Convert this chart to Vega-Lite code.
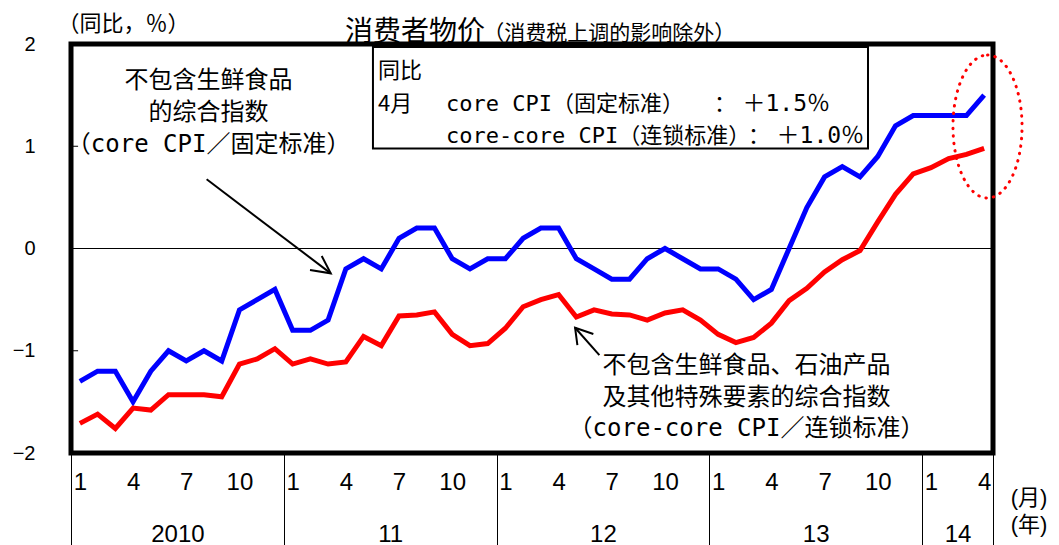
{
  "$schema": "https://vega.github.io/schema/vega-lite/v6.json",
  "width": 922,
  "height": 409,
  "autosize": {"type": "none"},
  "padding": {"left": 71, "top": 44, "right": 66, "bottom": 92},
  "background": "white",
  "config": {
    "view": {"stroke": "black", "strokeWidth": 5},
    "axis": {"grid": false, "domain": false, "labelColor": "black", "titleColor": "black", "labelFont": "Liberation Sans"}
  },
  "resolve": {"axis": {"x": "independent"}},
  "datasets": {
    "cpi": [
      {"i":0,"s":"core","v":-1.3},{"i":1,"s":"core","v":-1.2},{"i":2,"s":"core","v":-1.2},{"i":3,"s":"core","v":-1.5},
      {"i":4,"s":"core","v":-1.2},{"i":5,"s":"core","v":-1.0},{"i":6,"s":"core","v":-1.1},{"i":7,"s":"core","v":-1.0},
      {"i":8,"s":"core","v":-1.1},{"i":9,"s":"core","v":-0.6},{"i":10,"s":"core","v":-0.5},{"i":11,"s":"core","v":-0.4},
      {"i":12,"s":"core","v":-0.8},{"i":13,"s":"core","v":-0.8},{"i":14,"s":"core","v":-0.7},{"i":15,"s":"core","v":-0.2},
      {"i":16,"s":"core","v":-0.1},{"i":17,"s":"core","v":-0.2},{"i":18,"s":"core","v":0.1},{"i":19,"s":"core","v":0.2},
      {"i":20,"s":"core","v":0.2},{"i":21,"s":"core","v":-0.1},{"i":22,"s":"core","v":-0.2},{"i":23,"s":"core","v":-0.1},
      {"i":24,"s":"core","v":-0.1},{"i":25,"s":"core","v":0.1},{"i":26,"s":"core","v":0.2},{"i":27,"s":"core","v":0.2},
      {"i":28,"s":"core","v":-0.1},{"i":29,"s":"core","v":-0.2},{"i":30,"s":"core","v":-0.3},{"i":31,"s":"core","v":-0.3},
      {"i":32,"s":"core","v":-0.1},{"i":33,"s":"core","v":0.0},{"i":34,"s":"core","v":-0.1},{"i":35,"s":"core","v":-0.2},
      {"i":36,"s":"core","v":-0.2},{"i":37,"s":"core","v":-0.3},{"i":38,"s":"core","v":-0.5},{"i":39,"s":"core","v":-0.4},
      {"i":40,"s":"core","v":0.0},{"i":41,"s":"core","v":0.4},{"i":42,"s":"core","v":0.7},{"i":43,"s":"core","v":0.8},
      {"i":44,"s":"core","v":0.7},{"i":45,"s":"core","v":0.9},{"i":46,"s":"core","v":1.2},{"i":47,"s":"core","v":1.3},
      {"i":48,"s":"core","v":1.3},{"i":49,"s":"core","v":1.3},{"i":50,"s":"core","v":1.3},{"i":51,"s":"core","v":1.5},
      {"i":0,"s":"cc","v":-1.71},{"i":1,"s":"cc","v":-1.62},{"i":2,"s":"cc","v":-1.76},{"i":3,"s":"cc","v":-1.56},
      {"i":4,"s":"cc","v":-1.58},{"i":5,"s":"cc","v":-1.43},{"i":6,"s":"cc","v":-1.43},{"i":7,"s":"cc","v":-1.43},
      {"i":8,"s":"cc","v":-1.45},{"i":9,"s":"cc","v":-1.13},{"i":10,"s":"cc","v":-1.08},{"i":11,"s":"cc","v":-0.98},
      {"i":12,"s":"cc","v":-1.13},{"i":13,"s":"cc","v":-1.08},{"i":14,"s":"cc","v":-1.13},{"i":15,"s":"cc","v":-1.11},
      {"i":16,"s":"cc","v":-0.86},{"i":17,"s":"cc","v":-0.95},{"i":18,"s":"cc","v":-0.66},{"i":19,"s":"cc","v":-0.65},
      {"i":20,"s":"cc","v":-0.62},{"i":21,"s":"cc","v":-0.84},{"i":22,"s":"cc","v":-0.95},{"i":23,"s":"cc","v":-0.93},
      {"i":24,"s":"cc","v":-0.78},{"i":25,"s":"cc","v":-0.57},{"i":26,"s":"cc","v":-0.50},{"i":27,"s":"cc","v":-0.45},
      {"i":28,"s":"cc","v":-0.67},{"i":29,"s":"cc","v":-0.60},{"i":30,"s":"cc","v":-0.64},{"i":31,"s":"cc","v":-0.65},
      {"i":32,"s":"cc","v":-0.70},{"i":33,"s":"cc","v":-0.63},{"i":34,"s":"cc","v":-0.60},{"i":35,"s":"cc","v":-0.70},
      {"i":36,"s":"cc","v":-0.84},{"i":37,"s":"cc","v":-0.92},{"i":38,"s":"cc","v":-0.87},{"i":39,"s":"cc","v":-0.73},
      {"i":40,"s":"cc","v":-0.51},{"i":41,"s":"cc","v":-0.39},{"i":42,"s":"cc","v":-0.23},{"i":43,"s":"cc","v":-0.11},
      {"i":44,"s":"cc","v":-0.02},{"i":45,"s":"cc","v":0.26},{"i":46,"s":"cc","v":0.53},{"i":47,"s":"cc","v":0.73},
      {"i":48,"s":"cc","v":0.79},{"i":49,"s":"cc","v":0.88},{"i":50,"s":"cc","v":0.92},{"i":51,"s":"cc","v":0.98}
    ]
  },
  "layer": [
    {
      "data": {"values": [{"v": 0}]},
      "mark": {"type": "rule", "color": "black", "strokeWidth": 1},
      "encoding": {
        "y": {"field": "v", "type": "quantitative", "scale": {"domain": [-2, 2], "nice": false, "zero": false},
          "axis": {"orient": "left", "values": [-2, -1, 0, 1, 2], "format": "d", "ticks": false, "labelPadding": 36, "labelFontSize": 20,
            "title": "（同比，％）", "titleAngle": 0, "titleAlign": "left", "titleBaseline": "middle",
            "titleX": -14, "titleY": -21, "titleFont": "Noto Sans CJK SC", "titleFontSize": 22, "titleFontWeight": "normal"}}
      }
    },
    {
      "data": {"values": [{"v": 1}, {"v": -1}]},
      "mark": {"type": "rule", "color": "black", "strokeWidth": 1},
      "encoding": {
        "y": {"field": "v", "type": "quantitative", "scale": {"domain": [-2, 2], "nice": false, "zero": false}},
        "x": {"datum": -0.5, "type": "quantitative", "scale": {"domain": [-0.5, 51.5], "nice": false, "zero": false}, "axis": null},
        "x2": {"datum": -0.1}
      }
    },
    {
      "data": {"name": "cpi"},
      "mark": {"type": "line", "strokeWidth": 5},
      "encoding": {
        "x": {"field": "i", "type": "quantitative", "scale": {"domain": [-0.5, 51.5], "nice": false, "zero": false},
          "axis": {"orient": "bottom", "values": [0,3,6,9,12,15,18,21,24,27,30,33,36,39,42,45,48,51],
            "labelExpr": "'' + (datum.value % 12 + 1)", "ticks": false, "labelPadding": 29, "labelBaseline": "middle",
            "labelAlign": "center", "labelFontSize": 24, "labelFlush": false, "labelOverlap": false, "title": null}},
        "y": {"field": "v", "type": "quantitative", "scale": {"domain": [-2, 2], "nice": false, "zero": false}},
        "color": {"field": "s", "type": "nominal", "scale": {"domain": ["core", "cc"], "range": ["#0000FF", "#FF0000"]}, "legend": null}
      }
    },
    {
      "data": {"values": [{"x": 16.53, "x2": 44.45, "y": 1.971, "y2": 0.978}]},
      "mark": {"type": "rect", "fill": "white", "stroke": "black", "strokeWidth": 2},
      "encoding": {
        "x": {"field": "x", "type": "quantitative", "scale": {"domain": [-0.5, 51.5], "nice": false, "zero": false},
          "axis": {"orient": "bottom", "values": [5.5, 17.5, 29.5, 41.5, 49.5],
            "labelExpr": "datum.value < 12 ? '2010' : '' + (10 + floor(datum.value / 12))",
            "ticks": false, "labelPadding": 81, "labelBaseline": "middle", "labelAlign": "center", "labelFontSize": 24,
            "labelFlush": false, "labelOverlap": false, "title": null}},
        "x2": {"field": "x2"},
        "y": {"field": "y", "type": "quantitative", "scale": {"domain": [-2, 2], "nice": false, "zero": false}},
        "y2": {"field": "y2"}
      }
    },
    {
      "data": {"values": [
        {"g": "a1", "o": 0, "x": 7.15, "y": 0.677}, {"g": "a1", "o": 1, "x": 14.15, "y": -0.243},
        {"g": "a1h", "o": 0, "x": 12.98, "y": -0.21}, {"g": "a1h", "o": 1, "x": 14.15, "y": -0.243}, {"g": "a1h", "o": 2, "x": 13.64, "y": -0.073},
        {"g": "a2", "o": 0, "x": 29.3, "y": -1.042}, {"g": "a2", "o": 1, "x": 27.93, "y": -0.775},
        {"g": "a2h", "o": 0, "x": 28.96, "y": -0.836}, {"g": "a2h", "o": 1, "x": 27.93, "y": -0.775}, {"g": "a2h", "o": 2, "x": 28.06, "y": -0.944}
      ]},
      "mark": {"type": "line", "color": "black", "strokeWidth": 2},
      "encoding": {
        "x": {"field": "x", "type": "quantitative", "scale": {"domain": [-0.5, 51.5], "nice": false, "zero": false},
          "axis": {"orient": "bottom", "values": [-0.5, 11.5, 23.5, 35.5, 47.5, 51.5], "ticks": true, "tickSize": 92, "tickColor": "black",
            "tickWidth": 1, "labels": false, "title": null}},
        "y": {"field": "y", "type": "quantitative", "scale": {"domain": [-2, 2], "nice": false, "zero": false}},
        "detail": {"field": "g", "type": "nominal"},
        "order": {"field": "o", "type": "quantitative"}
      }
    },
    {
      "data": {"values": [{"x": 51.19, "y": 1.193}]},
      "mark": {"type": "point", "shape": "M0,-1C0.2668,-1,0.483,-0.5523,0.483,0C0.483,0.5523,0.2668,1,0,1C-0.2668,1,-0.483,0.5523,-0.483,0C-0.483,-0.5523,-0.2668,-1,0,-1Z",
        "size": 20449, "filled": false, "color": "#FF0000", "stroke": "#FF0000", "strokeWidth": 3, "strokeDash": [0.5, 7], "strokeCap": "round", "opacity": 1},
      "encoding": {
        "x": {"field": "x", "type": "quantitative", "scale": {"domain": [-0.5, 51.5], "nice": false, "zero": false}, "axis": null},
        "y": {"field": "y", "type": "quantitative", "scale": {"domain": [-2, 2], "nice": false, "zero": false}}
      }
    },
    {
      "data": {"values": [{"x": 14.95, "y": 2.108, "t": "消费者物价"}]},
      "mark": {"type": "text", "align": "left", "baseline": "middle", "font": "Noto Sans CJK SC", "fontSize": 28, "color": "black"},
      "encoding": {
        "x": {"field": "x", "type": "quantitative", "scale": {"domain": [-0.5, 51.5], "nice": false, "zero": false}, "axis": null},
        "y": {"field": "y", "type": "quantitative", "scale": {"domain": [-2, 2], "nice": false, "zero": false}},
        "text": {"field": "t"}
      }
    },
    {
      "data": {"values": [{"x": 22.75, "y": 2.098, "t": "（消费税上调的影响除外）"}]},
      "mark": {"type": "text", "align": "left", "baseline": "middle", "font": "Noto Sans CJK SC", "fontSize": 21, "color": "black"},
      "encoding": {
        "x": {"field": "x", "type": "quantitative", "scale": {"domain": [-0.5, 51.5], "nice": false, "zero": false}, "axis": null},
        "y": {"field": "y", "type": "quantitative", "scale": {"domain": [-2, 2], "nice": false, "zero": false}},
        "text": {"field": "t"}
      }
    },
    {
      "data": {"values": [{"x": 16.82, "y": 1.736, "t": "同比"}, {"x": 16.82, "y": 1.418, "t": "4月"}]},
      "mark": {"type": "text", "align": "left", "baseline": "middle", "font": "Noto Sans CJK SC", "fontSize": 22, "color": "black"},
      "encoding": {
        "x": {"field": "x", "type": "quantitative", "scale": {"domain": [-0.5, 51.5], "nice": false, "zero": false}, "axis": null},
        "y": {"field": "y", "type": "quantitative", "scale": {"domain": [-2, 2], "nice": false, "zero": false}},
        "text": {"field": "t"}
      }
    },
    {
      "data": {"values": [{"x": 20.65, "y": 1.418, "t": "core CPI（固定标准）"}, {"x": 20.65, "y": 1.105, "t": "core-core CPI（连锁标准）"}]},
      "mark": {"type": "text", "align": "left", "baseline": "middle", "font": "DejaVu Sans Mono, Noto Sans CJK SC", "fontSize": 22, "color": "black"},
      "encoding": {
        "x": {"field": "x", "type": "quantitative", "scale": {"domain": [-0.5, 51.5], "nice": false, "zero": false}, "axis": null},
        "y": {"field": "y", "type": "quantitative", "scale": {"domain": [-2, 2], "nice": false, "zero": false}},
        "text": {"field": "t"}
      }
    },
    {
      "data": {"values": [{"x": 36.38, "y": 1.418, "t": "："}, {"x": 38.3, "y": 1.105, "t": "："}]},
      "mark": {"type": "text", "align": "center", "baseline": "middle", "font": "Noto Sans CJK SC", "fontSize": 22, "color": "black"},
      "encoding": {
        "x": {"field": "x", "type": "quantitative", "scale": {"domain": [-0.5, 51.5], "nice": false, "zero": false}, "axis": null},
        "y": {"field": "y", "type": "quantitative", "scale": {"domain": [-2, 2], "nice": false, "zero": false}},
        "text": {"field": "t"}
      }
    },
    {
      "data": {"values": [{"x": 42.31, "y": 1.418, "t": "＋1.5％"}, {"x": 44.23, "y": 1.105, "t": "＋1.0％"}]},
      "mark": {"type": "text", "align": "right", "baseline": "middle", "font": "DejaVu Sans Mono, Noto Sans CJK SC", "fontSize": 23, "color": "black"},
      "encoding": {
        "x": {"field": "x", "type": "quantitative", "scale": {"domain": [-0.5, 51.5], "nice": false, "zero": false}, "axis": null},
        "y": {"field": "y", "type": "quantitative", "scale": {"domain": [-2, 2], "nice": false, "zero": false}},
        "text": {"field": "t"}
      }
    },
    {
      "data": {"values": [
        {"x": 7.26, "y": 1.638, "t": "不包含生鲜食品"}, {"x": 7.26, "y": 1.325, "t": "的综合指数"},
        {"x": 37.6, "y": -1.149, "t": "不包含生鲜食品、石油产品"}, {"x": 37.6, "y": -1.462, "t": "及其他特殊要素的综合指数"}
      ]},
      "mark": {"type": "text", "align": "center", "baseline": "middle", "font": "Noto Sans CJK SC", "fontSize": 24, "color": "black"},
      "encoding": {
        "x": {"field": "x", "type": "quantitative", "scale": {"domain": [-0.5, 51.5], "nice": false, "zero": false}, "axis": null},
        "y": {"field": "y", "type": "quantitative", "scale": {"domain": [-2, 2], "nice": false, "zero": false}},
        "text": {"field": "t"}
      }
    },
    {
      "data": {"values": [
        {"x": 7.26, "y": 1.012, "t": "（core CPI／固定标准）"},
        {"x": 37.6, "y": -1.765, "t": "（core-core CPI／连锁标准）"}
      ]},
      "mark": {"type": "text", "align": "center", "baseline": "middle", "font": "DejaVu Sans Mono, Noto Sans CJK SC", "fontSize": 24, "color": "black"},
      "encoding": {
        "x": {"field": "x", "type": "quantitative", "scale": {"domain": [-0.5, 51.5], "nice": false, "zero": false}, "axis": null},
        "y": {"field": "y", "type": "quantitative", "scale": {"domain": [-2, 2], "nice": false, "zero": false}},
        "text": {"field": "t"}
      }
    },
    {
      "data": {"values": [{"x": 52.5, "y": -2.44, "t": "(月)"}, {"x": 52.5, "y": -2.7, "t": "(年)"}]},
      "mark": {"type": "text", "align": "left", "baseline": "middle", "font": "Liberation Sans, Noto Sans CJK SC", "fontSize": 22, "color": "black"},
      "encoding": {
        "x": {"field": "x", "type": "quantitative", "scale": {"domain": [-0.5, 51.5], "nice": false, "zero": false}, "axis": null},
        "y": {"field": "y", "type": "quantitative", "scale": {"domain": [-2, 2], "nice": false, "zero": false}},
        "text": {"field": "t"}
      }
    }
  ]
}
